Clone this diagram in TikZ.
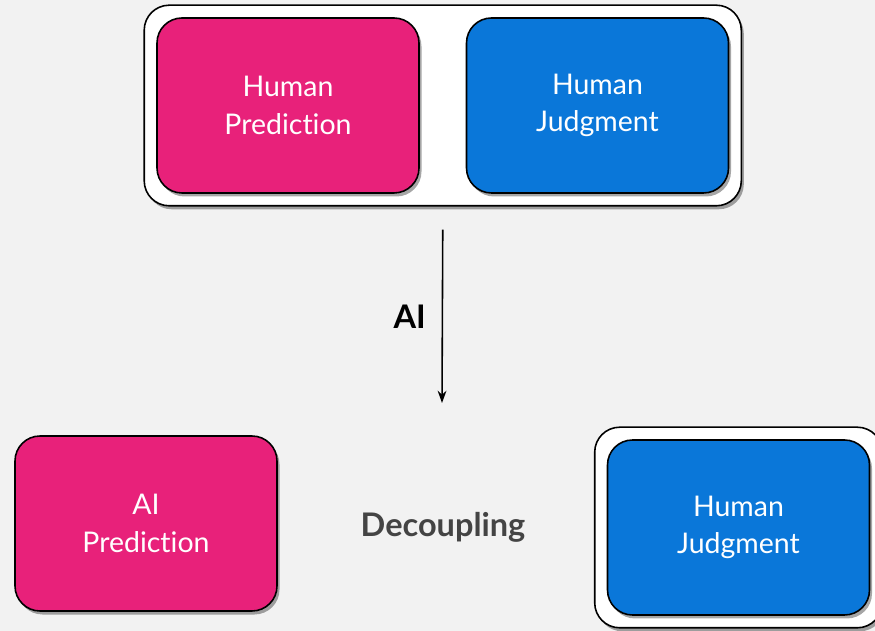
\documentclass[tikz,border=0pt]{standalone}
\usepackage{fontspec}
\setmainfont{Lato}[RawFeature={-liga;-dlig;-clig;-calt}]
\usepackage{xcolor}
\definecolor{aipink}{RGB}{232,33,122}
\definecolor{aiblue}{RGB}{10,119,217}
\definecolor{aibg}{RGB}{242,242,242}
\definecolor{aigrey}{RGB}{68,68,68}
\usetikzlibrary{arrows.meta,positioning,fit,shadows,backgrounds}
\tikzset{
  shade/.style={drop shadow={shadow xshift=0.05cm,shadow yshift=-0.07cm,opacity=0.35,fill=black}},
  taskbox/.style={draw=black,line width=0.9pt,rounded corners=0.5cm,minimum width=5.24cm,minimum height=3.5cm,
    align=center,text=white,font=\fontsize{16.2}{21.5}\selectfont,shade},
  groupbox/.style={draw=black,line width=0.9pt,rounded corners=0.5cm,fill=white,inner sep=0.24cm,shade},
  tag/.style={font=\fontsize{18.5}{22}\selectfont\bfseries},
}
\begin{document}
\begin{tikzpicture}
  \useasboundingbox (0,0) rectangle (17.5,12.62);
  % before: one human does both
  \node[taskbox,fill=aipink] (hpred) at (5.76,10.51) {Human\\Prediction};
  \node[taskbox,fill=aiblue] (hjudge) at (11.95,10.51) {Human\\Judgment};
  % after: prediction moves to the machine
  \node[taskbox,fill=aipink] (aipred) at (2.92,2.15) {AI\\Prediction};
  \node[taskbox,fill=aiblue] (hjudge2) at (14.77,2.07) {Human\\Judgment};
  \node[tag,text=aigrey] (decoup) at (8.86,2.08) {Decoupling};
  \begin{scope}[on background layer]
    \fill[aibg] (0,0) rectangle (17.5,12.62);
    \node[groupbox,fit=(hpred)(hjudge)] (before) {};
    \node[groupbox,fit=(hjudge2)] (after) {};
  \end{scope}
  \coordinate (arrowend) at (8.84,4.56);
  \draw[-{Stealth[length=7pt,width=5pt]},line width=0.9pt] ([yshift=-0.46cm]before.south) -- (arrowend)
    node[midway,left=0.2cm,tag,text=black] (ailabel) {AI};
\end{tikzpicture}
\end{document}
